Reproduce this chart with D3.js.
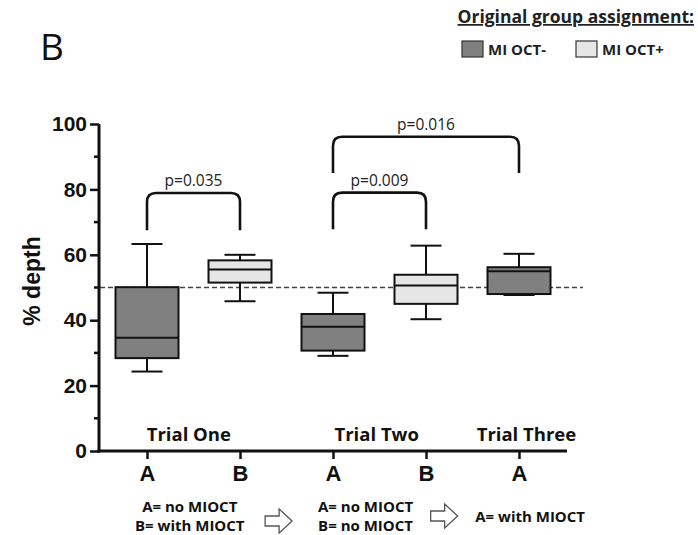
<!DOCTYPE html>
<html>
<head>
<meta charset="utf-8">
<script src="https://cdn.jsdelivr.net/npm/d3@7"></script>
<style>
  body { margin: 0; background: #fff; }
  svg { display: block; }
  .cal { font-family: "Open Sans", Lato, sans-serif; }
  .ari { font-family: "Liberation Sans", Arial, sans-serif; }
</style>
</head>
<body>
<div id="chart"></div>
<script>
// data
var groups = ['A', 'B', 'A', 'B', 'A'];
var assignment = ['MI OCT-', 'MI OCT+', 'MI OCT-', 'MI OCT+', 'MI OCT-'];
var whiskerLow = [24.3, 45.8, 29.1, 40.3, 47.7];
var q1 = [28.4, 51.5, 30.7, 45.0, 48.0];
var median = [34.6, 55.5, 38.0, 50.6, 55.0];
var q3 = [50.1, 58.3, 41.9, 53.9, 56.2];
var whiskerHigh = [63.3, 60.0, 48.4, 62.8, 60.3];

var trials = ['Trial One', 'Trial Two', 'Trial Three'];
var trialCenter = [0.45, 2.47, 4.08];

var pFrom = [0, 2, 2];
var pTo = [1, 3, 4];
var pLabel = ['p=0.035', 'p=0.009', 'p=0.016'];
var pTop = [78.9, 79.0, 96.1];
var pBottom = [67.5, 67.8, 85.0];

var refLine = 50;
var yTicks = [0, 20, 40, 60, 80, 100];
var yMinor = [10, 30, 50, 70, 90];

var legendTitle = 'Original group assignment:';
var legendKeys = ['MI OCT-', 'MI OCT+'];
var notes = [
    ['A= no MIOCT', 'B= with MIOCT'],
    ['A= no MIOCT', 'B= no MIOCT'],
    ['A= with MIOCT']
];
var noteCenter = [0.46, 2.35, 4.12];

var colors = { 'MI OCT-': '#808080', 'MI OCT+': '#e6e6e6' };

var width = 698, height = 535;

var svg = d3.select('#chart').append('svg')
    .attr('width', width)
    .attr('height', height);

var y = d3.scaleLinear().domain([0, 100]).range([451, 124]);
var x = d3.scaleLinear().domain([0, 4]).range([147, 519]);

var boxW = 63, capW = 31;

// panel letter
svg.append('text')
    .attr('class', 'cal')
    .attr('x', 40).attr('y', 60)
    .attr('font-size', 37)
    .attr('fill', '#111')
    .text('B');

// legend
svg.append('text')
    .attr('class', 'cal')
    .attr('x', 694).attr('y', 23)
    .attr('text-anchor', 'end')
    .attr('font-size', 17.5)
    .attr('font-weight', 'bold')
    .attr('fill', '#222')
    .attr('text-decoration', 'underline')
    .text(legendTitle);

var legX = [462, 576];
legendKeys.forEach(function (k, i) {
    svg.append('rect')
        .attr('x', legX[i]).attr('y', 41)
        .attr('width', 21).attr('height', 16)
        .attr('fill', colors[k])
        .attr('stroke', '#333').attr('stroke-width', 1.2);
    svg.append('text')
        .attr('class', 'cal')
        .attr('x', legX[i] + 26).attr('y', 55)
        .attr('font-size', 15)
        .attr('font-weight', 'bold')
        .attr('fill', '#222')
        .text(k);
});

// dashed reference line
svg.append('line')
    .attr('x1', 100).attr('x2', 583)
    .attr('y1', y(refLine)).attr('y2', y(refLine))
    .attr('stroke', '#444')
    .attr('stroke-width', 1.6)
    .attr('stroke-dasharray', '5,3');

// boxes
var box = svg.selectAll('.box')
    .data(groups.map(function (g, i) { return i; }))
    .enter().append('g')
    .attr('class', 'box');

box.append('line')
    .attr('x1', function (i) { return x(i); })
    .attr('x2', function (i) { return x(i); })
    .attr('y1', function (i) { return y(whiskerHigh[i]); })
    .attr('y2', function (i) { return y(whiskerLow[i]); })
    .attr('stroke', '#111').attr('stroke-width', 2);

box.append('line')
    .attr('x1', function (i) { return x(i) - capW / 2; })
    .attr('x2', function (i) { return x(i) + capW / 2; })
    .attr('y1', function (i) { return y(whiskerHigh[i]); })
    .attr('y2', function (i) { return y(whiskerHigh[i]); })
    .attr('stroke', '#111').attr('stroke-width', 2);

box.append('line')
    .attr('x1', function (i) { return x(i) - capW / 2; })
    .attr('x2', function (i) { return x(i) + capW / 2; })
    .attr('y1', function (i) { return y(whiskerLow[i]); })
    .attr('y2', function (i) { return y(whiskerLow[i]); })
    .attr('stroke', '#111').attr('stroke-width', 2);

box.append('rect')
    .attr('x', function (i) { return x(i) - boxW / 2; })
    .attr('width', boxW)
    .attr('y', function (i) { return y(q3[i]); })
    .attr('height', function (i) { return y(q1[i]) - y(q3[i]); })
    .attr('fill', function (i) { return colors[assignment[i]]; })
    .attr('stroke', '#111').attr('stroke-width', 2);

box.append('line')
    .attr('x1', function (i) { return x(i) - boxW / 2; })
    .attr('x2', function (i) { return x(i) + boxW / 2; })
    .attr('y1', function (i) { return y(median[i]); })
    .attr('y2', function (i) { return y(median[i]); })
    .attr('stroke', '#111').attr('stroke-width', 2);

// significance brackets
var r = 9;
pLabel.forEach(function (lab, i) {
    var x1 = x(pFrom[i]), x2 = x(pTo[i]);
    var yt = y(pTop[i]), yb = y(pBottom[i]);
    var p = d3.path();
    p.moveTo(x1, yb);
    p.lineTo(x1, yt + r);
    p.quadraticCurveTo(x1, yt, x1 + r, yt);
    p.lineTo(x2 - r, yt);
    p.quadraticCurveTo(x2, yt, x2, yt + r);
    p.lineTo(x2, yb);
    svg.append('path')
        .attr('d', p.toString())
        .attr('fill', 'none')
        .attr('stroke', '#111')
        .attr('stroke-width', 2.6);
    svg.append('text')
        .attr('class', 'cal')
        .attr('x', (x1 + x2) / 2)
        .attr('y', yt - 7)
        .attr('text-anchor', 'middle')
        .attr('font-size', 15.5)
        .attr('fill', '#222')
        .text(lab);
});

// y axis
var yAxis = d3.axisLeft(y).tickValues(yTicks).tickSize(9).tickPadding(3);
var gy = svg.append('g')
    .attr('transform', 'translate(99,0)')
    .call(yAxis);
gy.select('.domain').attr('stroke', '#111').attr('stroke-width', 3)
    .attr('d', 'M0,' + y(100) + 'V' + (y(0) + 1.5));
gy.selectAll('.tick line').attr('stroke', '#111').attr('stroke-width', 2.5);
gy.selectAll('.tick text')
    .attr('class', 'ari')
    .attr('font-size', 21)
    .attr('font-weight', 'bold')
    .attr('fill', '#111');

gy.selectAll('.minor')
    .data(yMinor)
    .enter().append('line')
    .attr('class', 'minor')
    .attr('x1', -5).attr('x2', 0)
    .attr('y1', function (d) { return y(d); })
    .attr('y2', function (d) { return y(d); })
    .attr('stroke', '#111').attr('stroke-width', 2.5);

svg.append('text')
    .attr('class', 'ari')
    .attr('transform', 'translate(40,' + 281 + ') rotate(-90)')
    .attr('text-anchor', 'middle')
    .attr('font-size', 23)
    .attr('font-weight', 'bold')
    .attr('fill', '#111')
    .text('% depth');

// x axis
var xAxis = d3.axisBottom(x).tickValues(d3.range(groups.length))
    .tickFormat(function (i) { return groups[i]; })
    .tickSize(8).tickPadding(6);
var gx = svg.append('g')
    .attr('transform', 'translate(0,' + y(0) + ')')
    .call(xAxis);
gx.select('.domain').attr('stroke', '#111').attr('stroke-width', 3)
    .attr('d', 'M97.5,0H567');
gx.selectAll('.tick line').attr('stroke', '#111').attr('stroke-width', 2.5);
gx.selectAll('.tick text')
    .attr('class', 'ari')
    .attr('font-size', 22)
    .attr('font-weight', 'bold')
    .attr('fill', '#111');

// trial labels
svg.selectAll('.trial')
    .data(trials)
    .enter().append('text')
    .attr('class', 'trial cal')
    .attr('x', function (d, i) { return x(trialCenter[i]); })
    .attr('y', 441)
    .attr('text-anchor', 'middle')
    .attr('font-size', 18.5)
    .attr('font-weight', 'bold')
    .attr('fill', '#111')
    .text(function (d) { return d; });

// condition notes
notes.forEach(function (lines, i) {
    var y0 = lines.length === 2 ? 512 : 522;
    lines.forEach(function (l, j) {
        svg.append('text')
            .attr('class', 'cal')
            .attr('x', x(noteCenter[i]))
            .attr('y', y0 + j * 19)
            .attr('text-anchor', 'middle')
            .attr('font-size', 15)
            .attr('font-weight', 'bold')
            .attr('fill', '#111')
            .text(l);
    });
});

// outline arrows between notes
var arrowAt = [1.27, 3.05];
var arrowY = [521, 516];
arrowAt.forEach(function (a, i) {
    var ax = x(a), ay = arrowY[i];
    var p = d3.path();
    p.moveTo(ax, ay - 5);
    p.lineTo(ax + 14, ay - 5);
    p.lineTo(ax + 14, ay - 12);
    p.lineTo(ax + 27, ay);
    p.lineTo(ax + 14, ay + 12);
    p.lineTo(ax + 14, ay + 5);
    p.lineTo(ax, ay + 5);
    p.closePath();
    svg.append('path')
        .attr('d', p.toString())
        .attr('fill', '#fff')
        .attr('stroke', '#555')
        .attr('stroke-width', 1.3);
});
</script>
</body>
</html>
